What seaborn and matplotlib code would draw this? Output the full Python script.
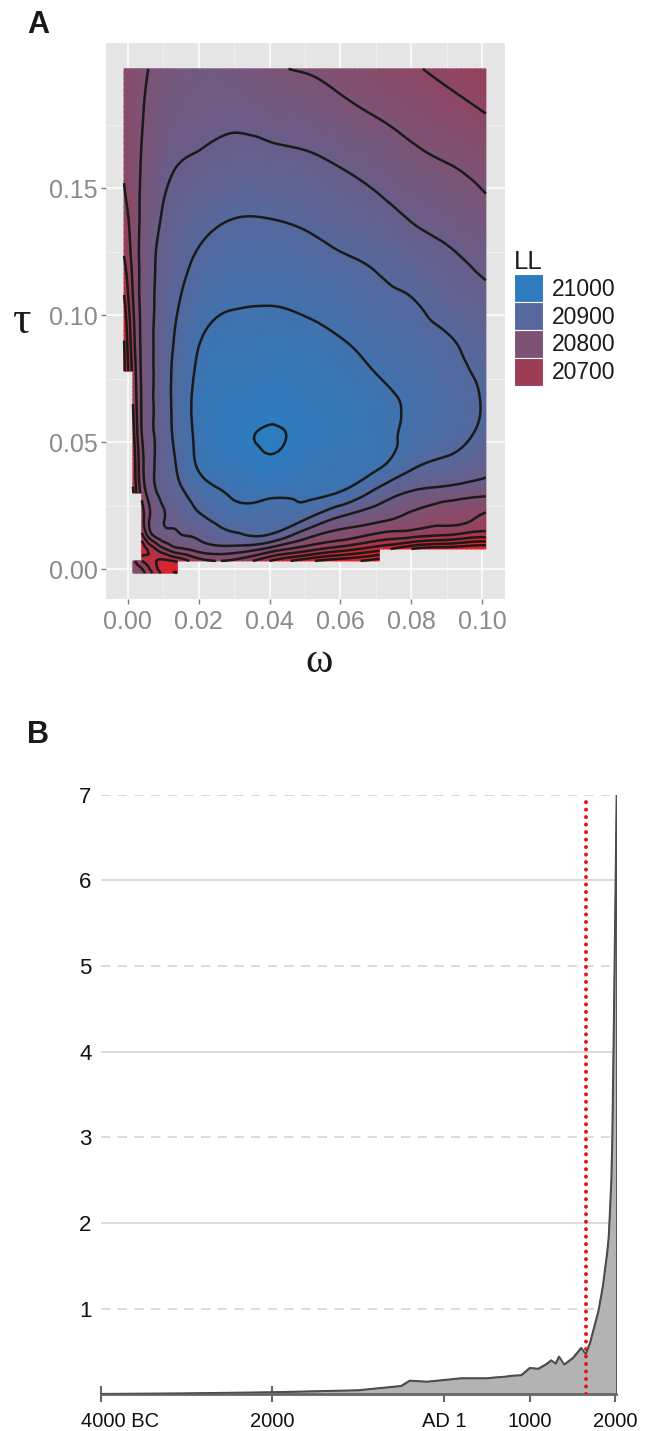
import numpy as np
import matplotlib
matplotlib.use("Agg")
import matplotlib.pyplot as plt
import matplotlib.tri as mtri
import seaborn as sns
from matplotlib.colors import LinearSegmentedColormap, Normalize
from matplotlib.patches import Patch
from matplotlib.transforms import ScaledTranslation

nan = np.nan
# ---------------- Panel A data: log-likelihood surface ----------
omega = [-0.001, 0.0015, 0.004, 0.007, 0.01, 0.014, 0.02, 0.03, 0.04, 0.05, 0.06, 0.071, 0.08, 0.09, 0.101]
tau = [-0.0015, 0.0033, 0.008, 0.013, 0.02, 0.03, 0.04, 0.053, 0.065, 0.078, 0.09, 0.105, 0.12, 0.14, 0.16, 0.18, 0.197]
LL = [
    [nan, 20785, 20770, 20700, 20640, 20600, nan, nan, nan, nan, nan, nan, nan, nan, nan],
    [nan, 20770, 20700, 20660, 20640, 20660, 20730, 20740, 20650, 20570, 20520, 20470, nan, nan, nan],
    [nan, nan, 20620, 20680, 20740, 20790, 20818, 20830, 20785, 20725, 20675, 20620, 20550, 20520, 20500],
    [nan, nan, 20680, 20790, 20828, 20845, 20856, 20890, 20891, 20815, 20772, 20730, 20710, 20690, 20660],
    [nan, nan, 20730, 20820, 20848, 20862, 20888, 20925, 20925, 20905, 20842, 20812, 20785, 20762, 20738],
    [nan, 20640, 20765, 20835, 20862, 20885, 20924, 20955, 20962, 20960, 20946, 20880, 20845, 20828, 20812],
    [nan, 20660, 20785, 20845, 20870, 20903, 20953, 20978, 20993, 20976, 20966, 20952, 20905, 20885, 20862],
    [nan, 20680, 20800, 20847, 20875, 20913, 20962, 20995, 21002, 20993, 20980, 20964, 20940, 20918, 20890],
    [nan, 20700, 20805, 20848, 20877, 20915, 20965, 20988, 20994, 20987, 20978, 20962, 20944, 20922, 20896],
    [20590, 20715, 20808, 20848, 20877, 20913, 20958, 20977, 20980, 20978, 20966, 20947, 20932, 20913, 20892],
    [20600, 20730, 20810, 20848, 20875, 20907, 20947, 20966, 20968, 20964, 20952, 20932, 20918, 20904, 20882],
    [20640, 20748, 20812, 20846, 20870, 20897, 20926, 20946, 20948, 20942, 20930, 20912, 20903, 20880, 20862],
    [20690, 20762, 20812, 20844, 20864, 20885, 20908, 20925, 20925, 20920, 20908, 20895, 20878, 20860, 20843],
    [20735, 20772, 20808, 20833, 20853, 20868, 20882, 20897, 20897, 20890, 20877, 20862, 20845, 20832, 20812],
    [20755, 20778, 20803, 20822, 20836, 20849, 20855, 20865, 20863, 20858, 20847, 20831, 20814, 20800, 20783],
    [20763, 20779, 20797, 20812, 20823, 20833, 20838, 20842, 20833, 20826, 20812, 20795, 20780, 20765, 20749],
    [20768, 20780, 20792, 20804, 20813, 20824, 20830, 20826, 20806, 20797, 20784, 20769, 20755, 20741, 20726],
]
contour_levels = list(range(20500, 21001, 50))
legend_breaks = [21000, 20900, 20800, 20700]
x_ticks_A = [0.0, 0.02, 0.04, 0.06, 0.08, 0.10]
y_ticks_A = [0.0, 0.05, 0.10, 0.15]

# ---------------- Panel B data: world population (billions) -------------------------
years = [-4000, -3000, -2000, -1000, -500, -400, -200, 1, 200, 400, 500, 600, 700, 800, 900,
         1000, 1100, 1200, 1250, 1300, 1340, 1400, 1500, 1600, 1650, 1700, 1750, 1800, 1850,
         1900, 1910, 1920, 1930, 1940, 1950, 1960, 1970, 1980, 1990, 2000, 2011]
population = [0.007, 0.014, 0.027, 0.05, 0.10, 0.162, 0.15, 0.17, 0.19, 0.19, 0.19, 0.20, 0.207, 0.22, 0.226,
              0.31, 0.301, 0.36, 0.40, 0.36, 0.443, 0.35, 0.425, 0.545, 0.47, 0.60, 0.79, 0.98, 1.26,
              1.65, 1.75, 1.86, 2.07, 2.30, 2.52, 2.98, 3.69, 4.44, 5.27, 6.07, 7.0]
marker_year = 1660
x_ticks_B = [-4000, -2000, 0, 1000, 2000]
x_labels_B = ["4000 BC", "2000", "AD 1", "1000", "2000"]
y_ticks_B = [1, 2, 3, 4, 5, 6, 7]

# ---------------- styling ----------------
sns.set_theme(style="white")
plt.rcParams["font.family"] = ["Liberation Sans", "DejaVu Sans"]

W, H = 652, 1431
fig = plt.figure(figsize=(W / 100, H / 100), dpi=100)

def px_axes(left, top, right, bottom):
    return fig.add_axes([left / W, 1 - bottom / H, (right - left) / W, (bottom - top) / H])

# ================= Panel A =================
axA = px_axes(106, 42.7, 505, 599)
axA.set_facecolor("#E5E5E5")
for s in axA.spines.values():
    s.set_visible(False)

cmap = LinearSegmentedColormap.from_list(
    "ll", [(0.0, "#E3202B"), (0.25, "#9E3B55"), (0.5, "#7D5375"), (0.75, "#56689D"), (1.0, "#2E7BBE")])
cmap.set_under("#E3202B")
cmap.set_over("#2C7CC0")
norm = Normalize(vmin=20600, vmax=21000)

Wg, Tg = np.meshgrid(np.array(omega), np.array(tau))
Z = np.array(LL, dtype=float)
nw = len(omega)
tris, tmask = [], []
for i in range(len(tau) - 1):
    for j in range(nw - 1):
        k00 = i * nw + j
        k01 = k00 + 1
        k10 = k00 + nw
        k11 = k10 + 1
        bad = np.isnan(Z[i:i + 2, j:j + 2]).any()
        tris += [[k00, k01, k11], [k00, k11, k10]]
        tmask += [bad, bad]
zflat = Z.ravel()
zfill = np.where(np.isnan(zflat), np.nanmin(zflat), zflat)
triang = mtri.Triangulation(Wg.ravel(), Tg.ravel(), np.array(tris), mask=np.array(tmask))
refiner = mtri.UniformTriRefiner(triang)
tri_r, z_r = refiner.refine_field(zfill, subdiv=3)
z_r = np.where(np.isfinite(z_r), z_r, np.nanmin(zflat))

axA.tripcolor(tri_r, z_r, cmap=cmap, norm=norm, shading="gouraud", zorder=2, rasterized=True)
axA.tricontour(tri_r, z_r, levels=contour_levels, colors="#1a1a1a", linewidths=1.8, zorder=3)

axA.set_xlim(-0.0061, 0.1064)
axA.set_ylim(-0.0117, 0.2073)
axA.set_xticks(x_ticks_A)
axA.set_xticklabels([f"{v:.2f}" for v in x_ticks_A])
axA.set_yticks(y_ticks_A)
axA.set_yticklabels([f"{v:.2f}" for v in y_ticks_A])
axA.set_xticks([0.01, 0.03, 0.05, 0.07, 0.09], minor=True)
axA.set_yticks([0.025, 0.075, 0.125, 0.175], minor=True)
axA.grid(which="major", color="white", linewidth=1.1)
axA.grid(which="minor", color="#F2F2F2", linewidth=0.6)
axA.set_axisbelow(True)
axA.tick_params(which="major", bottom=True, left=True, length=3.8, width=1.0, color="#7F7F7F",
                labelcolor="#8A8A8A", labelsize=18, pad=2)
axA.tick_params(axis="x", which="major", pad=4)
axA.tick_params(which="minor", bottom=False, left=False, length=0)

fig.text(22 / W, 1 - 322 / H, "τ", fontsize=33, family=["Liberation Serif", "DejaVu Serif"],
         ha="center", va="center", color="#1a1a1a")
fig.text(319 / W, 1 - 662 / H, "ω", fontsize=30, family=["Liberation Serif", "DejaVu Serif"],
         ha="center", va="center", color="#1a1a1a")

handles = [Patch(facecolor=cmap(norm(v)), edgecolor="white", linewidth=0.8) for v in legend_breaks]
leg = fig.legend(handles, [str(v) for v in legend_breaks], loc="upper left",
                 bbox_to_anchor=(514 / W, 1 - 250 / H), frameon=False, title="LL",
                 fontsize=16.5, title_fontsize=18.5, handlelength=1.25, handleheight=1.5,
                 labelspacing=0.0, handletextpad=0.42, borderpad=0, borderaxespad=0,
                 alignment="left")
for t in leg.get_texts():
    t.set_color("#1a1a1a")
leg.get_title().set_color("#1a1a1a")

fig.text(27 / W, 1 - 33 / H, "A", fontsize=22, fontweight="bold", ha="left", va="baseline",
         color="#1a1a1a")

# ================= Panel B =================
axB = px_axes(100.7, 794.7, 616.4, 1394.3)
axB.set_facecolor("white")
for name, s in axB.spines.items():
    s.set_visible(name == "bottom")
axB.spines["bottom"].set_color("#666666")
axB.spines["bottom"].set_linewidth(2.0)
axB.set_xlim(years[0], years[-1])
axB.set_ylim(0, 7)

for v in y_ticks_B:
    if v % 2 == 0:
        axB.axhline(v, color="#D4D4D4", linewidth=1.2, zorder=1)
    else:
        axB.axhline(v, color="#D4D4D4", linewidth=1.2, linestyle=(0, (5.6, 4.4)), zorder=1)

axB.fill_between(years, population, 0, facecolor="#B3B3B3", edgecolor="#4D4D4D",
                 linewidth=1.1, zorder=2)
sns.lineplot(x=years, y=population, ax=axB, color="#4D4D4D", linewidth=1.1, zorder=3)
axB.axvline(marker_year, color="#E8141C", linewidth=2.9, linestyle=(0, (0.01, 1.85)),
            dash_capstyle="round", zorder=4)

axB.set_xticks(x_ticks_B)
axB.set_xticklabels(x_labels_B)
axB.set_yticks(y_ticks_B)
axB.set_yticklabels([str(v) for v in y_ticks_B])
axB.tick_params(axis="x", bottom=True, direction="inout", length=11.5, width=1.5, color="#666666",
                labelsize=14.5, labelcolor="#111111", pad=7)
axB.tick_params(axis="y", left=False, length=0, labelsize=16, labelcolor="#111111", pad=6.5)
axB.set_xlabel("")
axB.set_ylabel("")
axB.grid(False)
lab0 = axB.get_xticklabels()[0]
lab0.set_transform(lab0.get_transform() + ScaledTranslation(19 / 100, 0, fig.dpi_scale_trans))

fig.text(27 / W, 1 - 742.7 / H, "B", fontsize=22, fontweight="bold", ha="left", va="baseline",
         color="#1a1a1a")

fig.savefig("out.png", dpi=100)
